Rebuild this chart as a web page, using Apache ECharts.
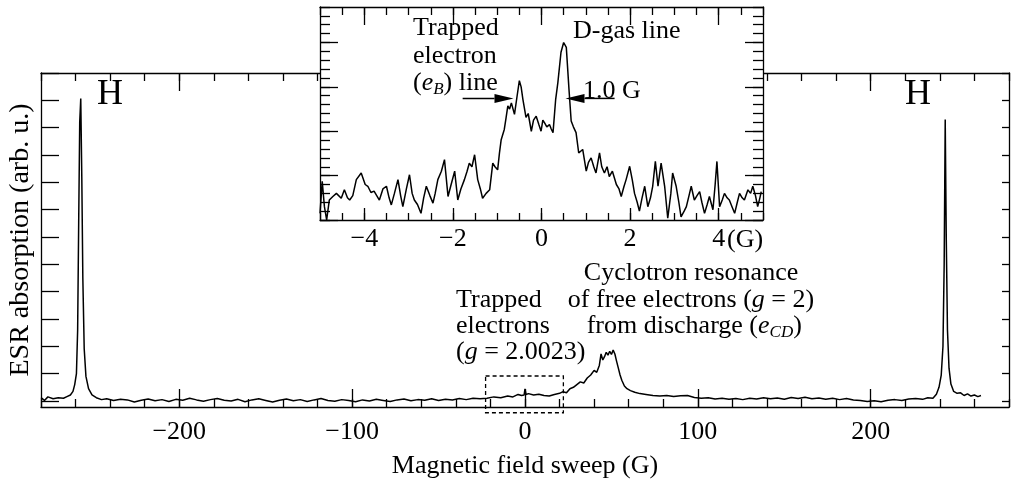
<!DOCTYPE html>
<html><head><meta charset="utf-8">
<script src="https://cdn.jsdelivr.net/npm/echarts@6/dist/echarts.min.js"></script>
<style>html,body{margin:0;padding:0;background:#fff}#c{width:1013px;height:480px}</style>
</head><body><div id="c"></div>
<script>
// ---- main spectrum (field in G, absorption in arb. u.) ----
const mainField = [
 -280, -278, -276, -273, -270, -267, -265, -263, -261.5, -260.5,
 -259.5, -258.8, -258.2, -257.6, -257, -256.4, -255.8, -255, -254, -252.5,
 -250.5, -248, -245, -242, -238, -234, -230, -226, -222, -218,
 -214, -210, -206, -202, -198, -194, -190, -186, -182, -178,
 -174, -170, -166, -162, -158, -154, -150, -146, -142, -138,
 -134, -130, -126, -122, -118, -114, -110, -106, -102, -98,
 -94, -90, -86, -82, -78, -74, -70, -66, -62, -58,
 -54, -50, -46, -42, -38, -34, -30, -26, -22, -18,
 -14, -10, -7, -4, -2, -0.5, 0, 0.6, 2, 5,
 8, 11, 14, 17, 20, 22, 24, 26, 28, 30,
 32, 34, 36, 38, 40, 41.5, 43, 44, 45, 46,
 47, 48, 49, 50, 51, 52, 53, 54, 55, 56,
 57.5, 59, 61, 63.5, 66.5, 70, 74, 78, 82, 86,
 90, 94, 98, 102, 106, 110, 114, 118, 122, 126,
 130, 134, 138, 142, 146, 150, 154, 158, 162, 166,
 170, 174, 178, 182, 186, 190, 194, 198, 202, 206,
 210, 214, 218, 222, 226, 230, 233, 236, 238, 239.5,
 240.8, 241.8, 242.5, 243.1, 243.7, 244.4, 245.3, 246.4, 248, 250,
 252, 254, 256, 258, 260, 262, 263.8
];
const mainAbs = [
 0.12, 0.02, 0.15, 0.08, 0.12, 0.10, 0.16, 0.22, 0.35, 0.6,
 1.0, 2.6, 6.5, 10.2, 11.07, 8.2, 4.5, 1.9, 0.9, 0.45,
 0.22, 0.12, 0.05, 0.08, 0.02, 0.06, 0.04, -0.04, 0.03, 0.07,
 0.01, 0.05, -0.02, 0.06, 0.03, 0.10, 0.04, -0.01, 0.05, 0.09,
 0.03, 0.0, 0.06, -0.03, 0.04, 0.08, 0.02, -0.04, 0.03, 0.07,
 0.01, 0.05, -0.02, 0.04, 0.09, 0.02, -0.01, 0.05, 0.02, -0.03,
 0.04, 0.0, 0.06, 0.02, -0.02, 0.04, 0.07, 0.01, 0.05, 0.03,
 0.08, 0.02, 0.06, 0.04, 0.09, 0.05, 0.10, 0.08, 0.10, 0.15,
 0.12, 0.18, 0.15, 0.24, 0.20, 0.22, 0.44, 0.24, 0.27, 0.22,
 0.25, 0.20, 0.18, 0.24, 0.28, 0.34, 0.30, 0.45, 0.50, 0.60,
 0.70, 0.66, 0.84, 0.95, 1.12, 1.05, 1.30, 1.72, 1.50, 1.62,
 1.78, 1.68, 1.82, 1.70, 1.86, 1.72, 1.45, 1.20, 0.95, 0.76,
 0.55, 0.45, 0.38, 0.32, 0.27, 0.24, 0.20, 0.18, 0.20, 0.16,
 0.19, 0.20, 0.13, 0.10, 0.12, 0.07, 0.10, 0.06, 0.09, 0.05,
 0.10, 0.07, 0.12, 0.08, 0.11, 0.06, 0.13, 0.09, 0.14, 0.08,
 0.11, 0.06, 0.10, 0.05, 0.09, 0.04, 0.02, -0.02, 0.01, -0.03,
 0.03, 0.05, 0.02, 0.07, 0.09, 0.06, 0.12, 0.10, 0.25, 0.50,
 0.95, 2.0, 5.0, 10.3, 6.0, 2.6, 1.2, 0.62, 0.35, 0.28,
 0.30, 0.20, 0.26, 0.18, 0.22, 0.16, 0.20
];
// ---- inset (zoom on the trapped-electron region) ----
const insetField = [
 -5.0, -4.95, -4.9, -4.85, -4.79, -4.71, -4.63, -4.52, -4.45, -4.38,
 -4.33, -4.26, -4.18, -4.07, -3.98, -3.92, -3.85, -3.78, -3.66, -3.58,
 -3.5, -3.44, -3.39, -3.32, -3.24, -3.18, -3.13, -3.05, -2.98, -2.92,
 -2.87, -2.8, -2.72, -2.66, -2.6, -2.52, -2.45, -2.4, -2.34, -2.26,
 -2.19, -2.11, -2.04, -1.96, -1.89, -1.82, -1.74, -1.68, -1.63, -1.57,
 -1.51, -1.44, -1.38, -1.33, -1.25, -1.17, -1.1, -1.05, -0.99, -0.95,
 -0.91, -0.84, -0.8, -0.76, -0.72, -0.68, -0.61, -0.55, -0.5, -0.46,
 -0.42, -0.35, -0.3, -0.23, -0.18, -0.12, -0.06, -0.01, 0.03, 0.07,
 0.12, 0.18, 0.22, 0.26, 0.32, 0.37, 0.44, 0.5, 0.56, 0.62,
 0.67, 0.72, 0.78, 0.84, 0.93, 1.01, 1.06, 1.12, 1.18, 1.23,
 1.31, 1.36, 1.42, 1.48, 1.53, 1.6, 1.69, 1.75, 1.8, 1.86,
 1.91, 1.99, 2.05, 2.1, 2.16, 2.21, 2.27, 2.33, 2.4, 2.46,
 2.51, 2.57, 2.63, 2.7, 2.78, 2.85, 2.92, 2.96, 3.04, 3.1,
 3.15, 3.22, 3.27, 3.33, 3.38, 3.45, 3.51, 3.57, 3.62, 3.68,
 3.74, 3.79, 3.87, 3.92, 3.96, 4.02, 4.08, 4.13, 4.19, 4.24,
 4.3, 4.36, 4.42, 4.47, 4.53, 4.58, 4.66, 4.72, 4.77, 4.83,
 4.88, 4.93, 4.96
];
const insetAbs = [
 0.15, 0.87, 0.30, 0.0, 0.45, 0.53, 0.60, 0.49, 0.68, 0.50,
 0.45, 0.55, 0.91, 1.06, 0.80, 0.76, 0.62, 0.65, 0.45, 0.70,
 0.76, 0.50, 0.34, 0.60, 0.91, 0.55, 0.30, 0.70, 1.02, 0.60,
 0.45, 0.35, 0.15, 0.50, 0.76, 0.55, 0.38, 0.60, 0.91, 1.10,
 1.36, 0.53, 0.80, 1.10, 0.45, 0.70, 0.91, 1.10, 1.28, 1.20,
 1.47, 0.91, 0.70, 0.49, 0.60, 0.68, 1.28, 1.20, 1.13, 1.50,
 1.81, 2.04, 2.30, 2.57, 2.50, 2.64, 2.38, 2.80, 3.14, 3.00,
 2.72, 2.31, 2.40, 2.00, 2.25, 2.34, 2.15, 2.00, 2.25, 2.19,
 2.10, 2.15, 2.05, 1.97, 2.72, 3.10, 3.78, 4.00, 3.89, 2.95,
 2.23, 2.10, 1.97, 1.51, 1.59, 1.10, 1.30, 1.40, 1.20, 1.06,
 1.51, 1.20, 1.06, 1.20, 0.98, 1.10, 0.80, 0.70, 0.53, 0.75,
 0.91, 1.21, 0.90, 0.60, 0.40, 0.20, 0.50, 0.76, 0.30, 0.50,
 0.76, 1.32, 0.76, 1.28, 0.76, 0.04, 0.60, 1.06, 0.76, 0.40,
 0.07, 0.20, 0.30, 0.55, 0.76, 0.45, 0.55, 0.64, 0.40, 0.15,
 0.35, 0.53, 0.23, 0.80, 1.32, 0.30, 0.45, 0.60, 0.50, 0.45,
 0.30, 0.15, 0.40, 0.60, 0.50, 0.45, 0.68, 0.60, 0.76, 0.55,
 0.30, 0.50, 0.64
];
// ---- ticks / labels ----
const mainXLabels = [-200, -100, 0, 100, 200];
const mainYTicks = [0, 1, 2, 3, 4, 5, 6, 7, 8, 9, 10, 11, 12];
const insetXLabels = [-4, -2, 0, 2, 4];
const insetYMajor = [0, 1, 2, 3, 4];
// ---- annotation geometry in data units ----
const trapBox = [[-22.8, -0.43, 22.2, 0.915]];
// arrows: [tailX, tailY, tipX, tipY] in inset units
const insetArrows = [[-1.78, 2.74, -0.632, 2.74], [1.65, 2.74, 0.542, 2.74]];

const FONT = '"Liberation Serif", "Times New Roman", serif';
const minusFmt = v => (v < 0 ? '\u2212' : '') + Math.abs(v);
const zip = (a, b) => a.map((v, i) => [v, b[i]]);
const tickStyle = {color: '#000', width: 1.3};
const lineStyle = {color: '#000', width: 1.3};

function xAx(grid, pos, min, max, opt) {
  return Object.assign({
    type: 'value', gridIndex: grid, position: pos, min: min, max: max,
    axisLine: {show: false, onZero: false, lineStyle},
    splitLine: {show: false}, axisLabel: {show: false},
    axisTick: {inside: true, lineStyle: tickStyle}
  }, opt);
}
const chart = echarts.init(document.getElementById('c'), null, {renderer: 'canvas'});
const txt = (text, x, y, align, size, extra) => Object.assign({
  type: 'text', z: 100,
  style: {text, x, y, align, verticalAlign: 'middle', fill: '#000',
    font: size + 'px ' + FONT,
    rich: {
      i: {fontFamily: FONT, fontSize: size, fontStyle: 'italic', lineHeight: 30, verticalAlign: 'middle'},
      sub: {fontFamily: FONT, fontSize: 17, fontStyle: 'italic', lineHeight: 30, verticalAlign: 'bottom'}
    }}
}, extra || {});

const option = {
  animation: false,
  backgroundColor: '#fff',
  grid: [
    {left: 41, top: 73, width: 968, height: 334, show: false, containLabel: false, outerBoundsMode: 'none'},
    {left: 320, top: 7, width: 443, height: 213, show: true, backgroundColor: '#fff', borderWidth: 0, z: 10,
      containLabel: false, outerBoundsMode: 'none'}
  ],
  xAxis: [
    xAx(0, 'bottom', -280, 280, {interval: 20, axisLine: {show: true, onZero: false, lineStyle},
      axisTick: {inside: true, length: 8, lineStyle: tickStyle},
      axisLabel: {show: true, customValues: mainXLabels, formatter: minusFmt, fontFamily: FONT, fontSize: 26, color: '#000', margin: 12},
      name: 'Magnetic field sweep (G)', nameLocation: 'middle', nameGap: 46,
      nameTextStyle: {fontFamily: FONT, fontSize: 26, color: '#000'}}),
    xAx(0, 'bottom', -280, 280, {axisTick: {inside: true, length: 18, customValues: mainXLabels, lineStyle: tickStyle}}),
    xAx(0, 'top', -280, 280, {interval: 20, axisLine: {show: true, onZero: false, lineStyle},
      axisTick: {inside: true, length: 8, lineStyle: tickStyle}}),
    xAx(0, 'top', -280, 280, {axisTick: {inside: true, length: 18, customValues: mainXLabels, lineStyle: tickStyle}}),
    // inset
    xAx(1, 'bottom', -5, 5, {z: 11, interval: 0.5, axisLine: {show: true, onZero: false, lineStyle},
      axisTick: {inside: true, length: 7, lineStyle: tickStyle},
      axisLabel: {show: true, customValues: insetXLabels, formatter: minusFmt, fontFamily: FONT, fontSize: 26, color: '#000', margin: 6}}),
    xAx(1, 'bottom', -5, 5, {z: 11, axisTick: {inside: true, length: 12, customValues: insetXLabels, lineStyle: tickStyle}}),
    xAx(1, 'top', -5, 5, {z: 11, interval: 0.5, axisLine: {show: true, onZero: false, lineStyle},
      axisTick: {inside: true, length: 8, lineStyle: tickStyle}}),
    xAx(1, 'top', -5, 5, {z: 11, axisTick: {inside: true, length: 18, customValues: insetXLabels, lineStyle: tickStyle}})
  ],
  yAxis: [
    xAx(0, 'left', -0.22, 12, {axisLine: {show: true, onZero: false, lineStyle},
      axisTick: {inside: true, length: 18, customValues: mainYTicks, lineStyle: tickStyle},
      name: 'ESR absorption (arb. u.)', nameLocation: 'middle', nameGap: 6,
      nameTextStyle: {fontFamily: FONT, fontSize: 28, color: '#000'}}),
    xAx(0, 'right', -0.22, 12, {axisLine: {show: true, onZero: false, lineStyle},
      axisTick: {inside: true, length: 7, customValues: mainYTicks, lineStyle: tickStyle}}),
    xAx(1, 'left', 0, 4.8, {z: 11, interval: 0.2, axisLine: {show: true, onZero: false, lineStyle},
      axisTick: {inside: true, length: 10, lineStyle: tickStyle}}),
    xAx(1, 'left', 0, 4.8, {z: 11, axisTick: {inside: true, length: 18, customValues: insetYMajor, lineStyle: tickStyle}}),
    xAx(1, 'right', 0, 4.8, {z: 11, interval: 0.2, axisLine: {show: true, onZero: false, lineStyle},
      axisTick: {inside: true, length: 10, lineStyle: tickStyle}}),
    xAx(1, 'right', 0, 4.8, {z: 11, axisTick: {inside: true, length: 18, customValues: insetYMajor, lineStyle: tickStyle}})
  ],
  series: [
    {type: 'line', xAxisIndex: 0, yAxisIndex: 0, data: zip(mainField, mainAbs),
      showSymbol: false, symbol: 'none', lineStyle: {color: '#000', width: 1.5}, z: 2, silent: true},
    {type: 'custom', xAxisIndex: 0, yAxisIndex: 0, clip: false, z: 3, silent: true,
      data: trapBox, encode: {x: [0, 2], y: [1, 3]},
      renderItem: (params, api) => {
        const p0 = api.coord([api.value(0), api.value(1)]);
        const p1 = api.coord([api.value(2), api.value(3)]);
        return {type: 'rect', shape: {x: p0[0], y: p1[1], width: p1[0] - p0[0], height: p0[1] - p1[1]},
          style: {fill: 'transparent', stroke: '#000', lineWidth: 1.3, lineDash: [4, 3]}};
      }},
    {type: 'line', xAxisIndex: 4, yAxisIndex: 2, data: zip(insetField, insetAbs),
      showSymbol: false, symbol: 'none', lineStyle: {color: '#000', width: 1.5}, z: 12, silent: true},
    {type: 'custom', xAxisIndex: 4, yAxisIndex: 2, clip: false, z: 13, silent: true,
      data: insetArrows, encode: {x: [0, 2], y: [1, 3]},
      renderItem: (params, api) => {
        const t = api.coord([api.value(0), api.value(1)]);
        const h = api.coord([api.value(2), api.value(3)]);
        const d = h[0] > t[0] ? 1 : -1;
        const L = 19, W = 4.5;
        const bx = h[0] - d * L;
        return {type: 'group', children: [
          {type: 'line', shape: {x1: t[0], y1: t[1], x2: bx, y2: h[1]}, style: {stroke: '#000', lineWidth: 1.5}},
          {type: 'polygon', shape: {points: [[h[0], h[1]], [bx, h[1] - W], [bx, h[1] + W]]}, style: {fill: '#000'}}
        ]};
      }}
  ],
  graphic: [
    txt('H', 110, 95, 'center', 36),
    txt('H', 918, 95, 'center', 36),
    txt('Trapped', 456, 300, 'left', 26),
    txt('electrons', 456, 326, 'left', 26),
    txt('({i|g} = 2.0023)', 456, 352, 'left', 26),
    txt('Cyclotron resonance', 691, 273, 'center', 26),
    txt('of free electrons ({i|g} = 2)', 691, 300, 'center', 26),
    txt(' from discharge ({i|e}{sub|CD})', 691, 326, 'center', 26),
    txt('Trapped', 413, 28, 'left', 26),
    txt('electron', 413, 56, 'left', 26),
    txt('({i|e}{sub|B}) line', 413, 83, 'left', 26),
    txt('D-gas line', 573, 31, 'left', 26),
    txt('1.0 G', 583, 91, 'left', 26),
    txt('(G)', 727, 240, 'left', 26)
  ]
};
chart.setOption(option);
</script>
</body></html>
